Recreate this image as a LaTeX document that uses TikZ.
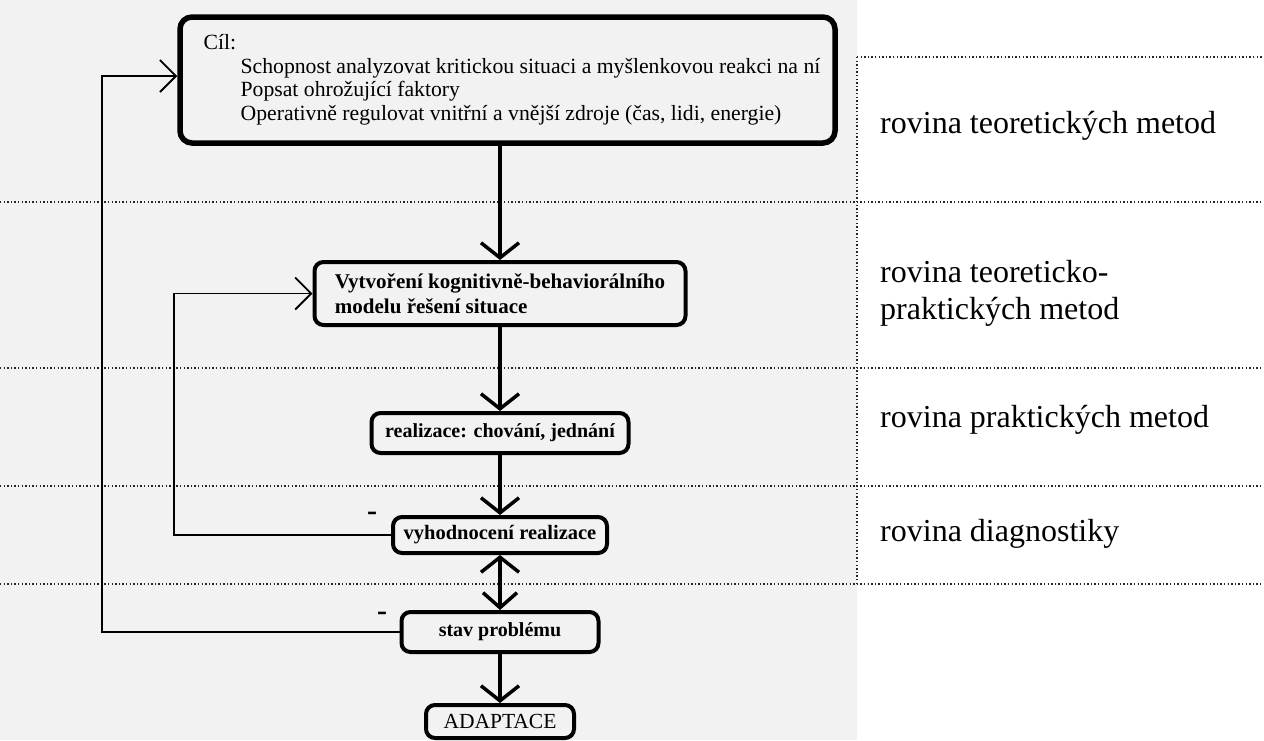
\documentclass[tikz,border=0pt]{standalone}
\usepackage{fontspec}
\setmainfont{Liberation Serif}
\usetikzlibrary{arrows.meta,calc}
\begin{document}
\begin{tikzpicture}[x=1pt,y=-1pt,
  topbox/.style={draw=black, line width=5.5pt, rounded corners=12pt, align=left,
    minimum width=655pt, minimum height=126pt, inner sep=0pt,
    font=\fontsize{21.7}{23.5}\selectfont},
  stepbox/.style={draw=black, line width=4pt, rounded corners=9pt, inner sep=0pt,
    font=\fontsize{20}{25}\selectfont\bfseries},
  lbl/.style={anchor=west, align=left, inner sep=0pt, font=\fontsize{32}{37}\selectfont},
  mainarrow/.style={line width=4pt, -{Straight Barb[length=15pt,width=38pt,line width=3.5pt]}},
  dblarrow/.style={line width=4pt, {Straight Barb[length=15pt,width=38pt,line width=3.5pt]}-{Straight Barb[length=15pt,width=34pt,line width=3.5pt]}},
  fbarrow/.style={line width=1.8pt, -{Straight Barb[length=16pt,width=32pt,line width=1.8pt]}},
  dotline/.style={line width=1.4pt, dash pattern=on 1.4pt off 2.2pt, black!85},
  minus/.style={inner sep=0pt, font=\fontsize{30}{30}\selectfont\bfseries}
]
\useasboundingbox (0,0) rectangle (1264,740);
\fill[black!5] (0,0) rectangle (857,740);

% dotted level separators
\draw[dotline] (857,57) -- (1264,57);
\draw[dotline] (857,57) -- (857,584);
\draw[dotline] (0,202) -- (1264,202);
\draw[dotline] (0,368) -- (1264,368);
\draw[dotline] (0,486) -- (1264,486);
\draw[dotline] (0,584) -- (1264,584);

% level labels
\node[lbl] (l1) at (880,126) {rovina teoretických metod};
\node[lbl] (l2) at (880,293) {rovina teoreticko-\\praktických metod};
\node[lbl] (l3) at (880,420) {rovina praktických metod};
\node[lbl] (l4) at (880,534) {rovina diagnostiky};

% boxes
\node[topbox] (goal) at (507.5,80) {\hspace*{9pt}Cíl:\\
\hspace*{46pt}Schopnost analyzovat kritickou situaci a myšlenkovou reakci na ní\\
\hspace*{46pt}Popsat ohrožující faktory\\
\hspace*{46pt}Operativně regulovat vnitřní a vnější zdroje (čas, lidi, energie)};

\node[stepbox, minimum width=371pt, minimum height=63pt, align=left, font=\fontsize{21}{25}\selectfont\bfseries] (model) at (500,293.5)
  {Vytvoření kognitivně-behaviorálního\\modelu řešení situace};
\node[stepbox, minimum width=257pt, minimum height=40pt] (real) at (500,433) {realizace: chování, jednání};
\node[stepbox, minimum width=214pt, minimum height=36pt, font=\fontsize{20.5}{25}\selectfont\bfseries] (eval) at (500,535) {vyhodnocení realizace};
\node[stepbox, minimum width=197pt, minimum height=40pt] (state) at (500,632) {stav problému};
\node[stepbox, minimum width=148pt, minimum height=33pt, font=\fontsize{21.5}{24}\selectfont] (adapt) at (500,721.5) {ADAPTACE};

% main flow
\draw[mainarrow] (goal.south -| model.north) -- (model.north);
\draw[mainarrow] (model.south) -- (real.north);
\draw[mainarrow] (real.south) -- (eval.north);
\draw[dblarrow] (eval.south) -- (state.north);
\draw[mainarrow] (state.south) -- (adapt.north);

% feedback loops
\coordinate (innerx) at (174,0);
\coordinate (outerc) at (102,76);
\draw[fbarrow] (eval.west) -| (innerx |- model.west) -- (model.west);
\draw[fbarrow] (state.west) -| (outerc) -- (outerc -| goal.west);

\node[minus] (m1) at (372,516) {-};
\node[minus] (m2) at (382,616) {-};
\end{tikzpicture}
\end{document}
